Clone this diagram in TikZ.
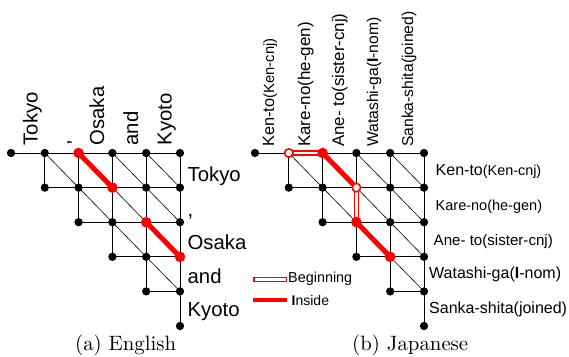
\documentclass[tikz,border=0pt]{standalone}
\usepackage{fontspec}
\newfontfamily\lab{Liberation Sans}
\newfontfamily\capfont{lmroman10-regular.otf}
\usetikzlibrary{backgrounds}

\tikzset{
  dot/.style={circle, fill=black, inner sep=0pt, minimum size=8.3pt},
  hitdot/.style={fill=red, minimum size=10.6pt},
  startdot/.style={fill=white, draw=red, line width=1.6pt, minimum size=8.4pt},
  edge/.style={line width=0.9pt},
  diag/.style={line width=0.6pt},
  insideline/.style={red, line width=5pt},
  beginline/.style={draw=red, line width=1.6pt, double=white, double distance=2.6pt},
  elab/.style={font=\lab\fontsize{20.3}{22}\selectfont, inner sep=0pt},
  jl/.style={font=\lab\fontsize{#1}{#1}\selectfont, inner sep=0pt},
  caption/.style={font=\capfont\fontsize{20.8}{22}\selectfont, anchor=base west, inner sep=0pt},
  % highlighted lattice points
  hl E-2-0/.style=hitdot, hl E-3-1/.style=hitdot,
  hl E-4-2/.style=hitdot, hl E-5-3/.style=hitdot,
  hl J-1-0/.style=startdot, hl J-3-1/.style=startdot,
  hl J-2-0/.style=hitdot, hl J-3-2/.style=hitdot, hl J-4-3/.style=hitdot,
}

% Triangular chart lattice: #1 = name prefix, #2 = x of the first column
\newcommand\chartlattice[2]{%
  \foreach \j in {0,...,5}{
    \foreach \i in {\j,...,5}{
      \edef\next{\noexpand\node[dot, hl #1-\i-\j/.try] (#1-\i-\j)
        at ({#2+33.8*\i},{153+34.6*\j}) {};}\next
    }
  }
  \begin{pgfonlayer}{background}
    % rows
    \foreach \j in {0,...,4}{
      \foreach \i [evaluate=\i as \ii using int(\i+1)] in {\j,...,4}{
        \draw[edge] (#1-\i-\j.center) -- (#1-\ii-\j.center);
      }
    }
    % columns
    \foreach \i [evaluate=\i as \lastrow using int(\i-1)] in {1,...,5}{
      \foreach \j [evaluate=\j as \jj using int(\j+1)] in {0,...,\lastrow}{
        \draw[edge] (#1-\i-\j.center) -- (#1-\i-\jj.center);
      }
    }
    % diagonals
    \foreach \j [evaluate=\j as \jj using int(\j+1)] in {0,...,3}{
      \foreach \i [evaluate=\i as \ii using int(\i+1)] in {\jj,...,4}{
        \draw[diag] (#1-\i-\j.center) -- (#1-\ii-\jj.center);
      }
    }
  \end{pgfonlayer}
}

\begin{document}
\begin{tikzpicture}[x=1pt, y=-1pt]
  \useasboundingbox (0,0) rectangle (569,356);

  % ---------------- (a) English ----------------
  \chartlattice{E}{11}
  \begin{pgfonlayer}{background}
    \draw[insideline] (E-2-0.center) -- (E-3-1.center);
    \draw[insideline] (E-4-2.center) -- (E-5-3.center);
  \end{pgfonlayer}

  \node[elab, rotate=90, anchor=base west] (Et1) at (37.5,145.5) {Tokyo};
  \node[elab, rotate=90, anchor=base west] (Et2) at (69.5,145.5) {,};
  \node[elab, rotate=90, anchor=base west] (Et3) at (104,145.5) {Osaka};
  \node[elab, rotate=90, anchor=base west] (Et4) at (138,145.5) {and};
  \node[elab, rotate=90, anchor=base west] (Et5) at (171.5,145.5) {Kyoto};

  \node[elab, anchor=base west] (Er1) at (187.5,181.7) {Tokyo};
  \node[elab, anchor=base west] (Er2) at (187.5,216.5) {,};
  \node[elab, anchor=base west] (Er3) at (187.5,249.5) {Osaka};
  \node[elab, anchor=base west] (Er4) at (187.5,283.3) {and};
  \node[elab, anchor=base west] (Er5) at (187.5,316.7) {Kyoto};

  \node[caption] (capA) at (75,350) {(a) English};

  % ---------------- (b) Japanese ----------------
  \chartlattice{J}{255}
  \begin{pgfonlayer}{background}
    \draw[beginline]  (J-1-0.center) -- (J-2-0.center);
    \draw[insideline] (J-2-0.center) -- (J-3-1.center);
    \draw[beginline]  (J-3-1.center) -- (J-3-2.center);
    \draw[insideline] (J-3-2.center) -- (J-4-3.center);
  \end{pgfonlayer}

  \node[jl=16.4, rotate=90, anchor=base west] (Jt1) at (274,147)
    {Ken-to{\fontsize{14.8}{16}\selectfont(Ken-cnj)}};
  \node[jl=17, rotate=90, anchor=base west] (Jt2) at (310,147) {Kare-no(he-gen)};
  \node[jl=16.9, rotate=90, anchor=base west] (Jt3) at (344,147) {Ane- to(sister-cnj)};
  \node[jl=15.7, rotate=90, anchor=base west] (Jt4) at (378,147) {Watashi-ga(\textbf{I}-nom)};
  \node[jl=15.7, rotate=90, anchor=base west] (Jt5) at (413,147) {Sanka-shita(joined)};

  \node[jl=16, anchor=base west] (Jr1) at (435.5,175.7)
    {Ken-to{\fontsize{14.4}{16}\selectfont(Ken-cnj)}};
  \node[jl=14.5, anchor=base west] (Jr2) at (435.5,210) {Kare-no(he-gen)};
  \node[jl=15.1, anchor=base west] (Jr3) at (433.5,245) {Ane- to(sister-cnj)};
  \node[jl=16, anchor=base west] (Jr4) at (429,278) {Watashi-ga(\textbf{I}-nom)};
  \node[jl=16, anchor=base west] (Jr5) at (429,313) {Sanka-shita(joined)};

  % legend
  \node[draw=red, line width=1.6pt, fill=white, inner sep=0pt,
        minimum width=32.6pt, minimum height=4pt] (legB) at (270,279.5) {};
  \node[jl=14.4, anchor=base west] (legBt) at (288,282.5) {Beginning};
  \coordinate (legIa) at (253.3,300);
  \coordinate (legIb) at (286.7,300);
  \draw[insideline, line width=4.7pt] (legIa) -- (legIb);
  \node[jl=14, anchor=base west] (legIt) at (291.5,305) {\textbf{I}nside};

  \node[caption] (capB) at (352,350) {(b) Japanese};
\end{tikzpicture}
\end{document}
